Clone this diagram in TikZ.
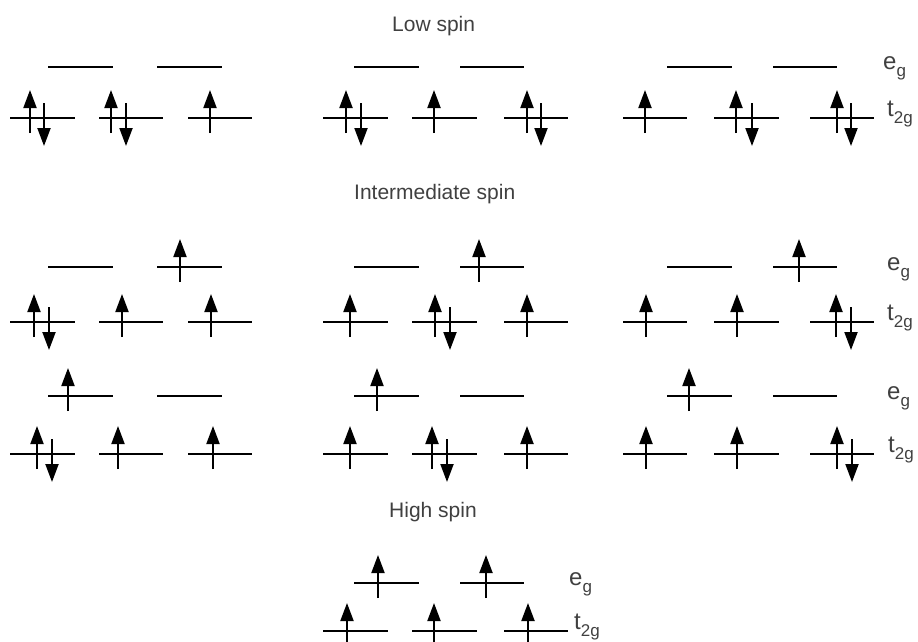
\documentclass[tikz,border=0pt]{standalone}
\usepackage{fontspec}
\setmainfont{Liberation Sans}
\usetikzlibrary{arrows.meta}
\definecolor{txtgray}{RGB}{64,64,64}
\tikzset{
  level/.style={line width=1.4pt, black},
  spin/.style={line width=2pt, black, -{Triangle[width=13pt,length=18pt]}},
  title/.style={anchor=base west, inner sep=0pt, text=txtgray, font=\fontsize{21}{25}\selectfont},
  lab/.style={anchor=base west, inner sep=0pt, text=txtgray, font=\fontsize{24}{28}\selectfont},
}
\newcommand\lvl[3]{\draw[level] (#1,#3) -- (#2,#3);}
\newcommand\spinup[2]{\draw[spin] (#1,#2+15) -- (#1,#2-28);}
\newcommand\spindn[2]{\draw[spin] (#1,#2-15) -- (#1,#2+28);}
\newcommand\sublab[1]{\raisebox{-7pt}{\fontsize{17}{17}\selectfont #1}}
\newcommand\grpA[2]{\lvl{10}{75}{#2}\lvl{99}{163}{#2}\lvl{188}{252}{#2}\lvl{48}{113}{#1}\lvl{157}{222}{#1}}
\newcommand\grpB[2]{\lvl{323}{388}{#2}\lvl{412}{477}{#2}\lvl{504}{568}{#2}\lvl{354}{419}{#1}\lvl{460}{524}{#1}}
\newcommand\grpC[2]{\lvl{623}{687}{#2}\lvl{714}{779}{#2}\lvl{810}{874}{#2}\lvl{667}{732}{#1}\lvl{773}{837}{#1}}
\begin{document}
\begin{tikzpicture}[x=1pt,y=-1pt]
\useasboundingbox (0,0) rectangle (918,641);
\clip (0,0) rectangle (918,641);
% titles
\node[title] (tlow) at (392,31) {Low spin};
\node[title] (tint) at (354,199) {Intermediate spin};
\node[title] (thigh) at (389,517) {High spin};
% ---- Row 1: low spin
\grpA{67}{118}\grpB{67}{118}\grpC{67}{118}
\spinup{30}{118}\spindn{44}{118}\spinup{111}{118}\spindn{126}{118}\spinup{210}{118}
\spinup{346}{118}\spindn{361}{118}\spinup{434}{118}\spinup{527}{118}\spindn{541}{118}
\spinup{645}{118}\spinup{736}{118}\spindn{752}{118}\spinup{837}{118}\spindn{851}{118}
\node[lab] (eg1) at (883,69) {e\sublab{g}};
\node[lab] (tg1) at (887,116) {t\sublab{2g}};
% ---- Row 2: intermediate spin
\grpA{267}{322}\grpB{267}{322}\grpC{267}{322}
\spinup{180}{267}\spinup{34}{322}\spindn{49}{322}\spinup{122}{322}\spinup{211}{322}
\spinup{479}{267}\spinup{350}{322}\spinup{435}{322}\spindn{450}{322}\spinup{527}{322}
\spinup{799}{267}\spinup{646}{322}\spinup{737}{322}\spinup{836}{322}\spindn{851}{322}
\node[lab] (eg2) at (887,270) {e\sublab{g}};
\node[lab] (tg2) at (887,320) {t\sublab{2g}};
% ---- Row 3: intermediate spin
\grpA{396}{454}\grpB{396}{454}\grpC{396}{454}
\spinup{68}{396}\spinup{37}{454}\spindn{52}{454}\spinup{118}{454}\spinup{213}{454}
\spinup{377}{396}\spinup{350}{454}\spinup{432}{454}\spindn{447}{454}\spinup{527}{454}
\spinup{689}{396}\spinup{646}{454}\spinup{737}{454}\spinup{837}{454}\spindn{852}{454}
\node[lab] (eg3) at (887,399) {e\sublab{g}};
\node[lab] (tg3) at (888,452) {t\sublab{2g}};
% ---- Row 4: high spin
\grpB{583}{631}
\spinup{378}{583}\spinup{486}{583}
\spinup{347}{631}\spinup{434}{631}\spinup{528}{631}
\node[lab] (eg4) at (569,585) {e\sublab{g}};
\node[lab] (tg4) at (574,629) {t\sublab{2g}};
\end{tikzpicture}
\end{document}
